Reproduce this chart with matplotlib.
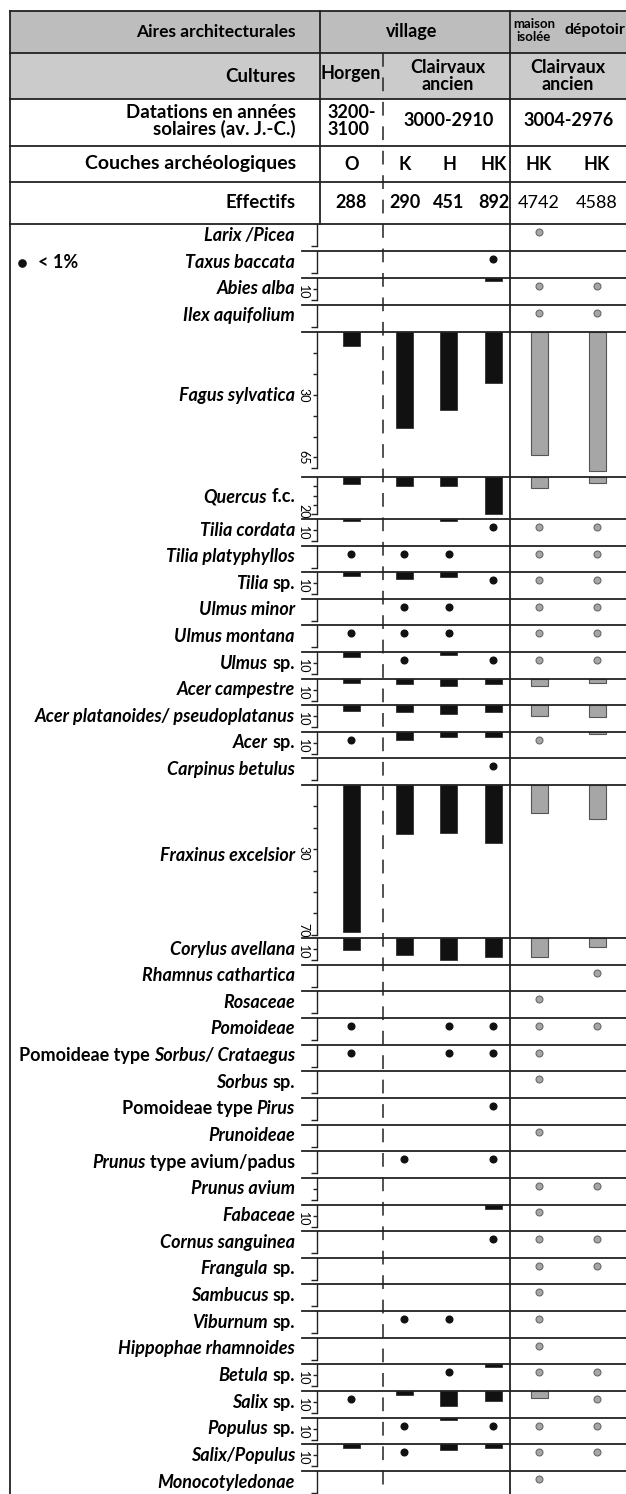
import matplotlib
matplotlib.use('Agg')
import matplotlib.pyplot as plt
from matplotlib.patches import Rectangle

plt.rcParams['font.family'] = ['Lato', 'DejaVu Sans']

# ---- data (percent of charcoal fragments); None = absent, values < 1 = "< 1%" dot
N = None
taxa = ['*Larix /Picea*', '*Taxus baccata*', '*Abies alba*', '*Ilex aquifolium*',
        '*Fagus sylvatica*', '*Quercus* f.c.', '*Tilia cordata*', '*Tilia platyphyllos*',
        '*Tilia* sp.', '*Ulmus minor*', '*Ulmus montana*', '*Ulmus* sp.',
        '*Acer campestre*', '*Acer platanoides/ pseudoplatanus*', '*Acer* sp.',
        '*Carpinus betulus*', '*Fraxinus excelsior*', '*Corylus avellana*',
        '*Rhamnus cathartica*', '*Rosaceae*', '*Pomoideae*',
        'Pomoideae type *Sorbus/ Crataegus*', '*Sorbus* sp.', 'Pomoideae type *Pirus*',
        '*Prunoideae*', '*Prunus* type avium/padus', '*Prunus avium*', '*Fabaceae*',
        '*Cornus sanguinea*', '*Frangula* sp.', '*Sambucus* sp.', '*Viburnum* sp.',
        '*Hippophae rhamnoides*', '*Betula* sp.', '*Salix* sp.', '*Populus* sp.',
        '*Salix/Populus*', '*Monocotyledonae*']

couches = ['O', 'K', 'H', 'HK', 'HK', 'HK']
effectifs = ['288', '290', '451', '892', '4742', '4588']

village_O = [N, N, N, N, 6.7, 3.9, 1.0, 0.5, 1.5, N, 0.5, 2.3, 1.8, 2.6, 0.5, N, 68.8, 5.3,
             N, N, 0.5, 0.5, N, N, N, N, N, N, N, N, N, N, N, N, 0.5, N, 1.7, N]
village_K = [N, N, N, N, 45.9, 4.9, N, 0.5, 3.2, 0.5, 0.5, 0.5, 2.6, 3.3, 3.9, N, 23.0, 7.7,
             N, N, N, N, N, N, N, 0.5, N, N, N, N, N, 0.5, N, N, 1.8, 0.5, 0.5, N]
village_H = [N, N, N, N, 37.3, 4.9, 1.0, 0.5, 2.0, 0.5, 0.5, 1.5, 3.3, 4.1, 2.4, N, 22.3, 10.0,
             N, N, 0.5, 0.5, N, N, N, N, N, N, N, N, N, 0.5, N, 0.5, 6.8, 1.2, 2.4, N]
village_HK = [N, 0.5, 1.5, N, 24.2, 20.2, 0.5, N, 0.5, N, N, 0.5, 2.6, 3.3, 2.4, 0.5, 27.0, 8.6,
              N, N, 0.5, 0.5, N, 0.5, N, 0.5, N, 2.0, 0.5, N, N, N, N, 1.0, 4.5, 0.5, 1.7, N]
maison_HK = [0.5, N, 0.5, 0.5, 58.7, 5.8, 0.5, 0.5, 0.5, 0.5, 0.5, 0.5, 3.3, 4.8, 0.5, N, 12.9, 8.6,
             N, 0.5, 0.5, 0.5, 0.5, N, 0.5, N, 0.5, 0.5, 0.5, 0.5, 0.5, 0.5, 0.5, 0.5, 3.0, 0.5, 0.5, 0.5]
depotoir_HK = [N, N, 0.5, 0.5, 66.7, 3.1, 0.5, 0.5, 0.5, 0.5, 0.5, 0.5, 2.0, 5.5, 1.0, N, 16.0, 3.9,
               0.5, N, 0.5, N, N, N, N, N, 0.5, N, 0.5, 0.5, N, N, N, 0.5, 0.5, 0.5, 0.5, N]
series = [village_O, village_K, village_H, village_HK, maison_HK, depotoir_HK]

# ---- layout (pixels)
W, H = 626, 1494
col_x = [351.5, 404.5, 449, 493.5, 539, 597]
bar_w = 17
row_px = [27, 27, 27, 27, 145, 42] + [26.6] * 10 + [153] + [26.65] * 20 + [23]
px_per_pct = [2.2] * 4 + [2.09, 1.85] + [2.2] * 10 + [2.14] + [2.2] * 21
bracket = [10] * 4 + [65, 20] + [10] * 10 + [70] + [10] * 21
label_pct = [5] * 38
label_pct[4], label_pct[5], label_pct[16] = 30.6, 10.8, 33
ten = [2, 6, 8, 11, 12, 13, 14, 17, 27, 33, 34, 35, 36]
scale_labels = {i: [(6.5, '10')] for i in ten}
scale_labels[4] = [(30.5, '30'), (60, '65')]
scale_labels[5] = [(18.5, '20')]
scale_labels[16] = [(32, '30'), (68, '70')]
minor = {i: [5] for i in ten + [26]}
minor[4] = [10, 20, 30, 40, 50, 60]
minor[5] = [5, 10, 15]
minor[16] = [10, 20, 30, 40, 50, 60]

LC = '#222222'
BLACK = '#111111'
GREY = '#a6a6a6'
TAXON_FS = 13

fig = plt.figure(figsize=(W / 100, H / 100), dpi=100)


def px_axes(x0, y0, x1, y1):
    return fig.add_axes([x0 / W, 1 - y1 / H, (x1 - x0) / W, (y1 - y0) / H])


def draw_label(ax, x, y, spec, size=TAXON_FS):
    # split "*italic* normal" into styled pieces, draw right to left
    parts = []
    for k, s in enumerate(spec.split('*')):
        s = s.strip()
        if s:
            parts.append((s, 'italic' if k % 2 else 'normal'))
    prev = None
    for s, st in reversed(parts):
        if prev is None:
            prev = ax.text(x, y, s, ha='right', va='center', fontsize=size,
                           weight='bold', style=st, clip_on=False)
        else:
            prev = ax.annotate(s, xy=(0, 0.5), xycoords=prev, xytext=(-3.2, 0),
                               textcoords='offset points', ha='right', va='center',
                               fontsize=size, weight='bold', style=st)


top = 224
seps = []
for i, name in enumerate(taxa):
    h = row_px[i]
    ax = px_axes(317, top, W, top + h)
    ax.set_xlim(317, W)
    ax.set_ylim(h / px_per_pct[i], 0)
    ax.patch.set_visible(False)
    for sp in ['top', 'right', 'bottom']:
        ax.spines[sp].set_visible(False)
    ax.spines['left'].set_bounds(0, bracket[i])
    ax.spines['left'].set_color(LC)
    ax.spines['left'].set_linewidth(1.0)
    ax.set_xticks([])
    ax.set_yticks([bracket[i]])
    ax.set_yticks(minor.get(i, []), minor=True)
    ax.tick_params(axis='y', which='major', direction='out', length=4.5, width=1.0,
                   color=LC, labelleft=False)
    ax.tick_params(axis='y', which='minor', direction='out', length=2.8, width=1.0,
                   color=LC, labelleft=False)

    for j, vals in enumerate(series):
        v = vals[i]
        if v is None:
            continue
        village = j < 4
        if v < 1:
            if village:
                ax.plot(col_x[j], 3.6, 'o', ms=4.8, color=BLACK, clip_on=False)
            else:
                ax.plot(col_x[j], 3.6, 'o', ms=5.0, mfc=GREY, mec='#6a6a6a', mew=0.8,
                        clip_on=False)
        else:
            if village:
                ax.bar(col_x[j], v, width=bar_w, color=BLACK, edgecolor='#333333',
                       linewidth=0.6)
            else:
                ax.bar(col_x[j], v, width=bar_w, color=GREY, edgecolor='#555555',
                       linewidth=0.8)

    for yv, lbl in scale_labels.get(i, []):
        ax.text(303, yv, lbl, rotation=-90, ha='center', va='center', fontsize=9,
                clip_on=False)
    draw_label(ax, 295, label_pct[i], name)
    top += h
    seps.append(top)

# ---- table frame and header
ax0 = fig.add_axes([0, 0, 1, 1])
ax0.set_xlim(0, W)
ax0.set_ylim(H, 0)
ax0.axis('off')

ax0.add_patch(Rectangle((10, 11), W - 10, 42, facecolor='#bdbdbd', edgecolor='none', zorder=0))
ax0.add_patch(Rectangle((10, 53), W - 10, 46, facecolor='#cbcbcb', edgecolor='none', zorder=0))

lw = 1.3
ax0.plot([10, 10], [11, H], color=LC, lw=lw)
ax0.plot([10, W], [11, 11], color=LC, lw=lw)
for yy in [53, 99, 146, 182, 224]:
    ax0.plot([10, W], [yy, yy], color=LC, lw=lw)
ax0.plot([320, 320], [11, 224], color=LC, lw=lw)
ax0.plot([510, 510], [11, H], color=LC, lw=lw)
ax0.plot([383, 383], [53, H], color=LC, lw=1.1, dashes=(9, 7))
for yy in seps[:-1]:
    ax0.plot([302, W], [yy, yy], color=LC, lw=lw)

hd = dict(fontsize=13, weight='bold', va='center')
lab = dict(fontsize=13.5, weight='bold', va='center', ha='right')
ax0.text(296, 32, 'Aires architecturales', ha='right', fontsize=12.5, weight='bold',
         va='center')
ax0.text(412, 31, 'village', ha='center', **hd)
ax0.text(513, 24, 'maison', ha='left', fontsize=9.5, weight='bold', va='center')
ax0.text(516, 37, 'isolée', ha='left', fontsize=9.5, weight='bold', va='center')
ax0.text(595, 30, 'dépotoir', ha='center', fontsize=11.5, weight='bold', va='center')

ax0.text(296, 76, 'Cultures', **lab)
ax0.text(351, 74, 'Horgen', ha='center', **hd)
ax0.text(448, 76, 'Clairvaux\nancien', ha='center', linespacing=0.95, **hd)
ax0.text(568, 76, 'Clairvaux\nancien', ha='center', linespacing=0.95, **hd)

ax0.text(296, 121, 'Datations en années\nsolaires (av. J.-C.)', multialignment='right',
         linespacing=0.95, **lab)
ax0.text(327, 121, '3200-\n3100', ha='left', multialignment='left', linespacing=0.95, **hd)
ax0.text(449, 121, '3000-2910', ha='center', **hd)
ax0.text(569, 121, '3004-2976', ha='center', **hd)

ax0.text(296, 164, 'Couches archéologiques', ha='right', fontsize=14, weight='bold',
         va='center')
for xc, c in zip(col_x, couches):
    ax0.text(xc, 164, c, ha='center', **hd)

ax0.text(296, 203, 'Effectifs', **lab)
for k, (xc, e) in enumerate(zip(col_x, effectifs)):
    ax0.text(xc, 203, e, ha='center', fontsize=13, va='center',
             weight='bold' if k < 4 else 'normal')

ax0.plot(22, 263, 'o', color=BLACK, ms=5.2)
ax0.text(38, 263, '< 1%', ha='left', **hd)

fig.savefig('out.png', dpi=100)
